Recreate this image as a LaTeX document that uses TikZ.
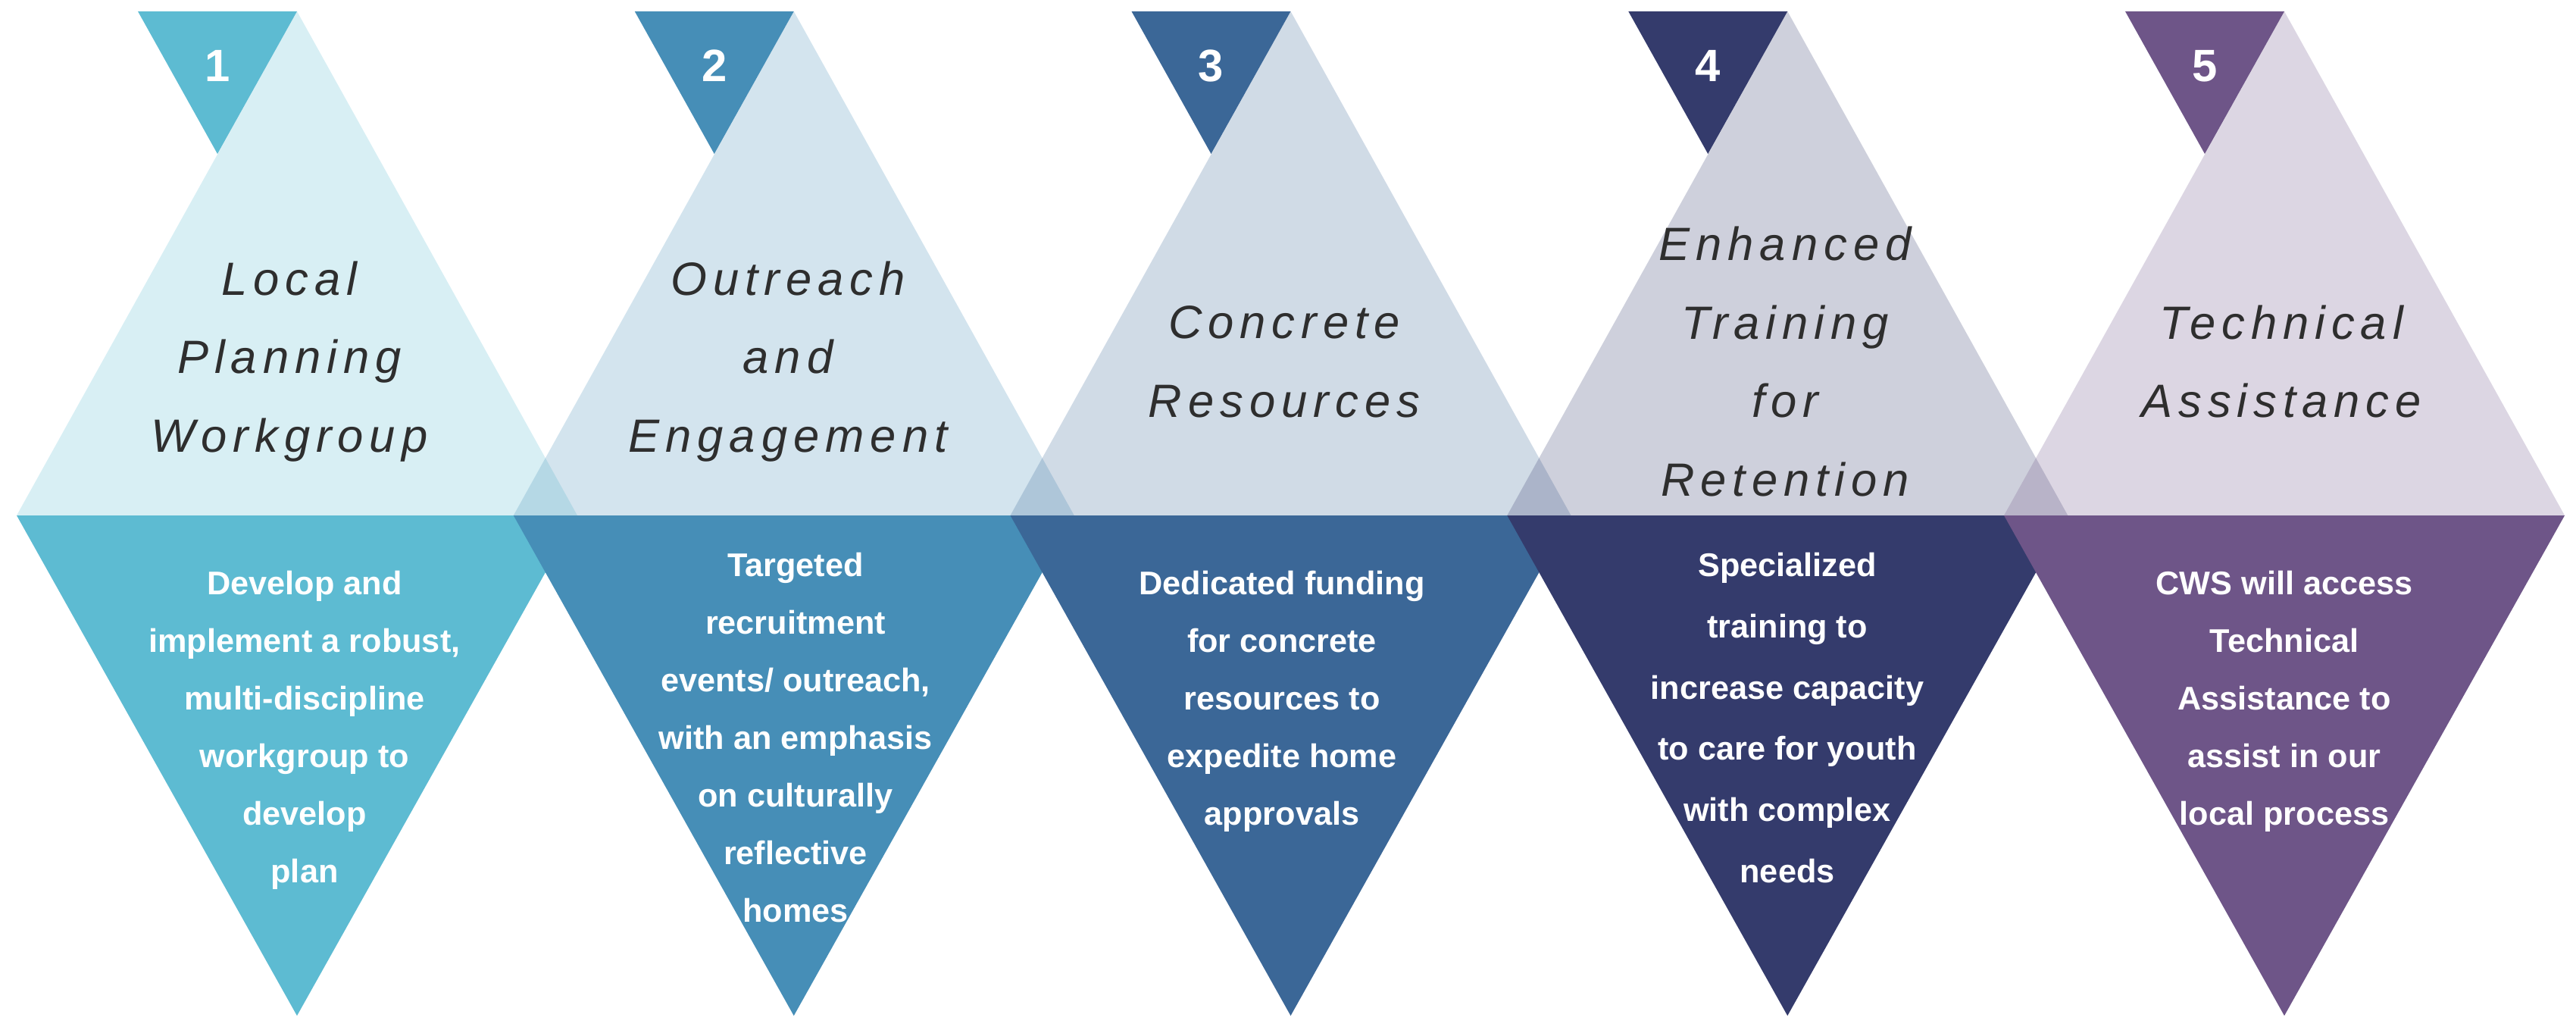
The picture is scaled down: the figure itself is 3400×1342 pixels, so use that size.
\documentclass[tikz,border=0pt]{standalone}
\usepackage{fontspec}
\setmainfont{Liberation Sans}
\newfontfamily\ttlfont[LetterSpace=13]{Liberation Sans}
\definecolor{cA}{HTML}{5DBBD2}
\definecolor{cB}{HTML}{468EB7}
\definecolor{cC}{HTML}{3B6797}
\definecolor{cD}{HTML}{343B6C}
\definecolor{cE}{HTML}{6E5588}
\tikzset{
	ttl/.style={font=\ttlfont\itshape\fontsize{17.5}{29.5}\selectfont, text=black!82, align=center},
	bdy/.style={font=\bfseries\fontsize{12.3}{21.6}\selectfont, text=white, align=center},
	num/.style={font=\bfseries\fontsize{17}{20}\selectfont, text=white}
}
\begin{document}
\begin{tikzpicture}[x=0.01cm, y=-0.01cm, line join=round]
	\useasboundingbox (0,0) rectangle (3400,1342);
	\foreach \i/\col in {1/cA,2/cB,3/cC,4/cD,5/cE}{
		\pgfmathsetmacro{\c}{392+655.75*(\i-1)}
		% light upper triangle
		\fill[\col, fill opacity=0.24] (\c,15) -- (\c+370,680) -- (\c-370,680) -- cycle;
		% number tab
		\fill[\col] (\c-210,15) -- (\c,15) -- (\c-105,203) -- cycle;
		\node[num] (n\i) at (\c-105,87) {\i};
		% lower triangle
		\fill[\col] (\c-370,680) -- (\c+370,680) -- (\c,1340) -- cycle;
	}
	\node[ttl] (t1) at (382,477) {Local\\Planning\\Workgroup};
	\node[ttl] (t2) at (1040,477) {Outreach\\and\\Engagement};
	\node[ttl] (t3) at (1695,477) {Concrete\\Resources};
	\node[ttl] (t4) at (2356,477) {Enhanced\\Training\\for\\Retention};
	\node[ttl] (t5) at (3011,477) {Technical\\Assistance};
	\node[bdy] (b1) at (402,963) {Develop and\\implement a robust,\\multi-discipline\\workgroup to\\develop\\plan};
	\node[bdy] (b2) at (1050,973) {Targeted\\recruitment\\events/ outreach,\\with an emphasis\\on culturally\\reflective\\homes};
	\node[bdy] (b3) at (1692,925) {Dedicated funding\\for concrete\\resources to\\expedite home\\approvals};
	\node[bdy, font=\bfseries\fontsize{12.3}{23}\selectfont] (b4) at (2359,947) {Specialized\\training to\\increase capacity\\to care for youth\\with complex\\needs};
	\node[bdy] (b5) at (3015,925) {CWS will access\\Technical\\Assistance to\\assist in our\\local process};
\end{tikzpicture}
\end{document}
